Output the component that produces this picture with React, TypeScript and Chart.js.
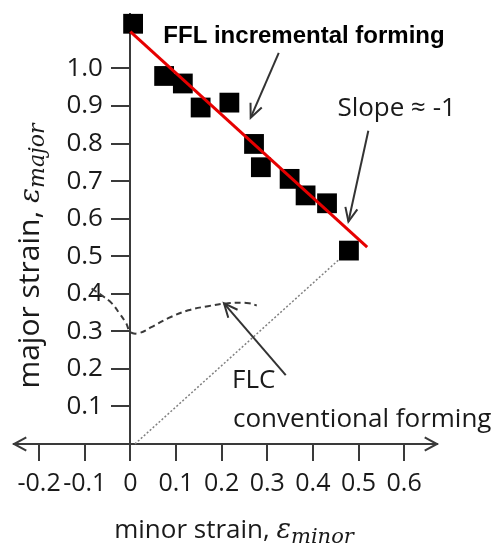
import React, { useEffect, useRef } from "react";
import { Chart, registerables } from "chart.js";

Chart.register(...registerables);

// ---- data ----
const pointX = [0.006, 0.074, 0.115, 0.154, 0.217, 0.271, 0.286, 0.349, 0.384, 0.431, 0.479];
const pointY = [1.119, 0.98, 0.96, 0.896, 0.909, 0.799, 0.737, 0.706, 0.662, 0.641, 0.515];

const fitX = [0.0, 0.519];
const fitY = [1.098, 0.524];

const flcX = [-0.085, -0.063, -0.041, -0.024, -0.009, 0.0, 0.018, 0.046, 0.083, 0.127, 0.17, 0.214, 0.26, 0.277];
const flcY = [0.414, 0.396, 0.375, 0.348, 0.321, 0.298, 0.295, 0.311, 0.335, 0.356, 0.367, 0.375, 0.375, 0.369];

const pathX = [0.01, 0.479];
const pathY = [0.0, 0.515];

const xTickValues = [-0.2, -0.1, 0, 0.1, 0.2, 0.3, 0.4, 0.5, 0.6];
const xTickLabels = ["-0.2", "-0.1", "0", "0.1", "0.2", "0.3", "0.4", "0.5", "0.6"];
const yTickValues = [0, 0.1, 0.2, 0.3, 0.4, 0.5, 0.6, 0.7, 0.8, 0.9, 1.0];
const yTickLabels = ["", "0.1", "0.2", "0.3", "0.4", "0.5", "0.6", "0.7", "0.8", "0.9", "1.0"];

const X_MIN = -0.255;
const X_MAX = 0.672;
const Y_MIN = 0;
const Y_MAX = 1.145;
const Y_LABEL_ANCHOR_X = -0.06; // x value where the y tick labels end (right-aligned)

// annotation texts (anchored in data coordinates)
const annotationTexts = [
  { text: "FFL incremental forming", x: 0.0722, y: 1.068, font: 'bold 24px "Liberation Sans"', color: "#000" },
  { text: "Slope \u2248 -1", x: 0.4537, y: 0.874, font: '26px "Open Sans"', color: "#1a1a1a" },
  { text: "FLC", x: 0.2227, y: 0.1488, font: '26px "Open Sans"', color: "#1a1a1a" },
  { text: "conventional forming", x: 0.2249, y: 0.0452, font: '26px "Open Sans"', color: "#1a1a1a" },
];
const annotationArrows = [
  { x1: 0.3252, y1: 1.0414, x2: 0.2637, y2: 0.8688 },
  { x1: 0.5215, y1: 0.8342, x2: 0.4779, y2: 0.5924 },
  { x1: 0.3405, y1: 0.1833, x2: 0.2052, y2: 0.3746 },
];

const AXIS_COLOR = "#3a3a3a";
const TICK_FONT = { family: "Open Sans", size: 26 };
const X_TICK_FONT = { family: "Open Sans", size: 25 };

function drawArrowHead(ctx: CanvasRenderingContext2D, x1: number, y1: number, x2: number, y2: number, L: number, s: number) {
  const a = Math.atan2(y2 - y1, x2 - x1);
  ctx.beginPath();
  ctx.moveTo(x2 - L * Math.cos(a - s), y2 - L * Math.sin(a - s));
  ctx.lineTo(x2, y2);
  ctx.lineTo(x2 - L * Math.cos(a + s), y2 - L * Math.sin(a + s));
  ctx.stroke();
}

type Part = { text: string; font: string; dy: number };

function drawComposite(ctx: CanvasRenderingContext2D, parts: Part[], cx: number, by: number) {
  let total = 0;
  const widths = parts.map((p) => {
    ctx.font = p.font;
    const w = ctx.measureText(p.text).width;
    total += w;
    return w;
  });
  let x = cx - total / 2;
  parts.forEach((p, i) => {
    ctx.font = p.font;
    ctx.fillText(p.text, x, by + p.dy);
    x += widths[i];
  });
}

const overlayPlugin = {
  id: "overlay",
  afterDraw(chart: any) {
    const ctx: CanvasRenderingContext2D = chart.ctx;
    const xs = chart.scales.x;
    const ys = chart.scales.y;
    const area = chart.chartArea;
    ctx.save();

    // axis arrow heads
    ctx.strokeStyle = AXIS_COLOR;
    ctx.lineWidth = 2;
    const y0 = ys.getPixelForValue(0);
    drawArrowHead(ctx, area.left + 20, y0, area.left, y0, 14, 0.5);
    drawArrowHead(ctx, area.right - 20, y0, area.right, y0, 14, 0.5);

    // annotation arrows
    ctx.strokeStyle = "#333";
    ctx.lineWidth = 2;
    annotationArrows.forEach((a) => {
      const px1 = xs.getPixelForValue(a.x1);
      const py1 = ys.getPixelForValue(a.y1);
      const px2 = xs.getPixelForValue(a.x2);
      const py2 = ys.getPixelForValue(a.y2);
      ctx.beginPath();
      ctx.moveTo(px1, py1);
      ctx.lineTo(px2, py2);
      ctx.stroke();
      drawArrowHead(ctx, px1, py1, px2, py2, 15, 0.42);
    });

    // annotation texts
    ctx.textBaseline = "alphabetic";
    ctx.textAlign = "left";
    annotationTexts.forEach((t) => {
      ctx.font = t.font;
      ctx.fillStyle = t.color;
      ctx.fillText(t.text, xs.getPixelForValue(t.x), ys.getPixelForValue(t.y));
    });

    // axis titles
    ctx.fillStyle = "#1a1a1a";
    const xParts: Part[] = [
      { text: "minor strain, ", font: '26px "Open Sans"', dy: 0 },
      { text: "\u03B5", font: 'italic 27px "DejaVu Serif"', dy: 0 },
      { text: "minor", font: 'italic 21px "DejaVu Serif"', dy: 5 },
    ];
    drawComposite(ctx, xParts, 234, 538);

    const yParts: Part[] = [
      { text: "major strain, ", font: '30px "Open Sans"', dy: 0 },
      { text: "\u03B5", font: 'italic 28px "DejaVu Serif"', dy: 0 },
      { text: "major", font: 'italic 22px "DejaVu Serif"', dy: 5 },
    ];
    ctx.save();
    ctx.translate(39, 256);
    ctx.rotate(-Math.PI / 2);
    drawComposite(ctx, yParts, 0, 0);
    ctx.restore();

    ctx.restore();
  },
};

const zeroPadding = (s: any) => {
  s.paddingLeft = 0;
  s.paddingRight = 0;
  s.paddingTop = 0;
  s.paddingBottom = 0;
};

export default function App() {
  const canvasRef = useRef<HTMLCanvasElement | null>(null);

  useEffect(() => {
    const canvas = canvasRef.current;
    if (!canvas) return;
    const chart = new Chart(canvas, {
      type: "scatter",
      data: {
        datasets: [
          {
            label: "fit",
            data: fitX.map((x, i) => ({ x, y: fitY[i] })),
            showLine: true,
            borderColor: "#e60000",
            backgroundColor: "#e60000",
            borderWidth: 3,
            pointRadius: 0,
            fill: false,
            clip: false,
          } as any,
          {
            label: "FFL",
            data: pointX.map((x, i) => ({ x, y: pointY[i] })),
            pointStyle: "rect",
            pointRadius: 14,
            pointHoverRadius: 14,
            backgroundColor: "#000",
            borderColor: "#000",
            borderWidth: 0,
            clip: false,
          } as any,
          {
            label: "FLC",
            data: flcX.map((x, i) => ({ x, y: flcY[i] })),
            showLine: true,
            borderColor: "#3a3a3a",
            borderWidth: 2,
            borderDash: [6, 4],
            tension: 0.4,
            pointRadius: 0,
            fill: false,
            clip: false,
          } as any,
          {
            label: "path",
            data: pathX.map((x, i) => ({ x, y: pathY[i] })),
            showLine: true,
            borderColor: "#808080",
            borderWidth: 1.5,
            borderDash: [2, 2],
            pointRadius: 0,
            fill: false,
            clip: false,
          } as any,
        ],
      },
      options: {
        responsive: false,
        animation: false,
        devicePixelRatio: 1,
        layout: { padding: { left: 12, right: 63, top: 13, bottom: 103 } },
        plugins: {
          legend: { display: false },
          tooltip: { enabled: false },
          title: { display: false },
        },
        events: [],
        scales: {
          x: {
            type: "linear",
            position: { y: 0 } as any,
            min: X_MIN,
            max: X_MAX,
            afterBuildTicks: (s: any) => {
              s.ticks = xTickValues.map((v) => ({ value: v }));
            },
            afterFit: zeroPadding,
            ticks: {
              callback: (_v: any, i: number) => xTickLabels[i],
              font: X_TICK_FONT,
              color: "#1a1a1a",
              padding: 9,
              maxRotation: 0,
              minRotation: 0,
              autoSkip: false,
            },
            grid: {
              drawOnChartArea: false,
              drawTicks: true,
              tickLength: 16,
              color: AXIS_COLOR,
              lineWidth: 2,
            },
            border: { display: true, color: AXIS_COLOR, width: 2 },
          },
          y: {
            type: "linear",
            position: { x: 0 } as any,
            min: Y_MIN,
            max: Y_MAX,
            afterBuildTicks: (s: any) => {
              s.ticks = yTickValues.map((v) => ({ value: v }));
            },
            afterFit: zeroPadding,
            ticks: { display: false, autoSkip: false },
            grid: {
              drawOnChartArea: false,
              drawTicks: true,
              tickLength: 18,
              color: AXIS_COLOR,
              lineWidth: 2,
            },
            border: { display: true, color: AXIS_COLOR, width: 2 },
          },
          yLabels: {
            type: "linear",
            axis: "y",
            position: { x: Y_LABEL_ANCHOR_X } as any,
            min: Y_MIN,
            max: Y_MAX,
            afterBuildTicks: (s: any) => {
              s.ticks = yTickValues.map((v) => ({ value: v }));
            },
            afterFit: zeroPadding,
            ticks: {
              callback: (_v: any, i: number) => yTickLabels[i],
              font: TICK_FONT,
              color: "#1a1a1a",
              padding: 0,
              autoSkip: false,
            },
            grid: { display: false, drawOnChartArea: false, drawTicks: false },
            border: { display: false },
          },
        } as any,
      },
      plugins: [overlayPlugin],
    });
    return () => chart.destroy();
  }, []);

  return (
    <div style={{ position: "absolute", left: 0, top: 0, width: 500, height: 547, background: "#fff" }}>
      <canvas ref={canvasRef} width={500} height={547} style={{ display: "block" }} />
    </div>
  );
}
